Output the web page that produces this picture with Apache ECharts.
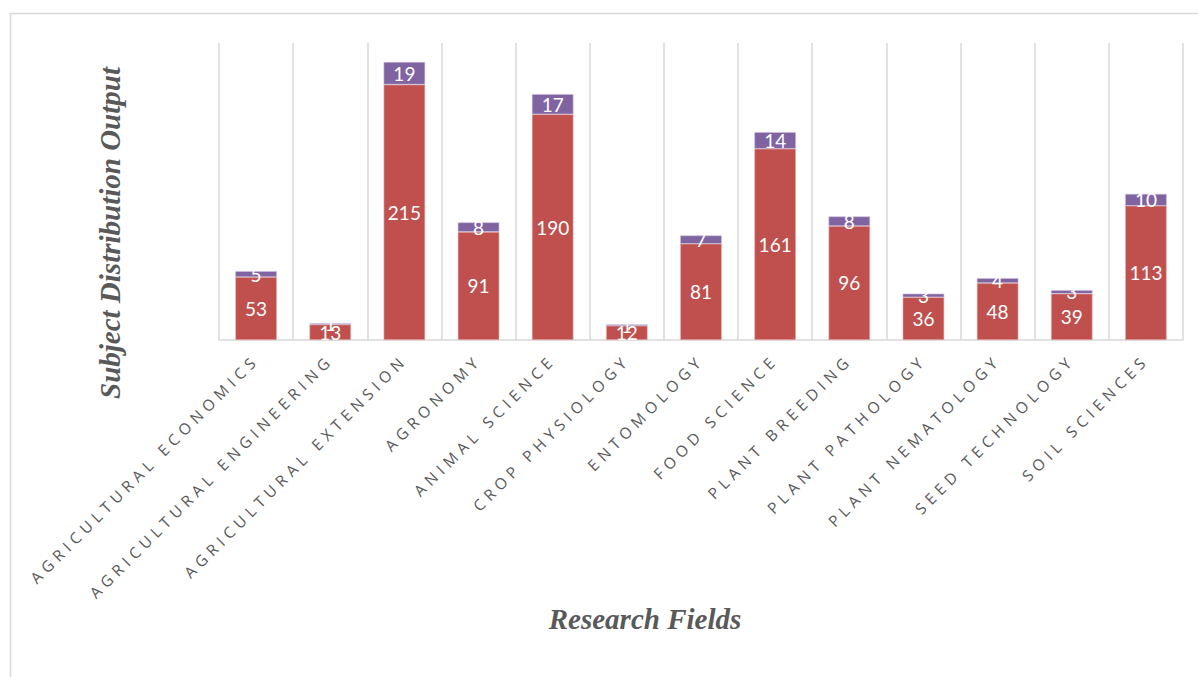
<!DOCTYPE html>
<html>
<head>
<meta charset="utf-8">
<script src="https://cdn.jsdelivr.net/npm/echarts@6/dist/echarts.min.js"></script>
<style>
  html, body { margin: 0; padding: 0; background: #fff; }
  #chart { width: 1198px; height: 677px; }
  /* widen the tracking of the category labels */
  #chart text[style*="Open Sans"] { letter-spacing: 5px; }
</style>
</head>
<body>
<div id="chart"></div>
<script>
const categories = [
  'AGRICULTURAL ECONOMICS', 'AGRICULTURAL ENGINEERING', 'AGRICULTURAL EXTENSION',
  'AGRONOMY', 'ANIMAL SCIENCE', 'CROP PHYSIOLOGY', 'ENTOMOLOGY', 'FOOD SCIENCE',
  'PLANT BREEDING', 'PLANT PATHOLOGY', 'PLANT NEMATOLOGY', 'SEED TECHNOLOGY', 'SOIL SCIENCES'
];
const baseValues = [53, 13, 215, 91, 190, 12, 81, 161, 96, 36, 48, 39, 113];
const topValues  = [5, 1, 19, 8, 17, 1, 7, 14, 8, 3, 4, 3, 10];

const chart = echarts.init(document.getElementById('chart'), null, { renderer: 'svg' });

const dataLabel = {
  show: true,
  position: 'inside',
  color: '#ffffff',
  fontFamily: 'Lato',
  fontSize: 19
};

chart.setOption({
  animation: false,
  backgroundColor: '#ffffff',
  grid: { left: 219, right: 15, top: 43, bottom: 337 },
  xAxis: {
    type: 'category',
    data: categories,
    axisLine: { show: true, lineStyle: { color: '#d9d9d9', width: 1.5 } },
    axisTick: { show: false },
    splitLine: { show: true, lineStyle: { color: '#d9d9d9', width: 1.5 } },
    axisLabel: {
      interval: 0,
      rotate: 45,
      margin: 17,
      color: '#595959',
      fontFamily: 'Open Sans',
      fontSize: 15.5
    }
  },
  yAxis: {
    type: 'value',
    min: 0,
    max: 250,
    show: false,
    splitLine: { show: false }
  },
  series: [
    {
      name: 'Base',
      type: 'bar',
      stack: 'total',
      barWidth: '56%',
      data: baseValues,
      itemStyle: { color: '#C0504D', borderColor: '#e8b4b3', borderWidth: 0.6 },
      label: dataLabel
    },
    {
      name: 'Additional',
      type: 'bar',
      stack: 'total',
      barWidth: '56%',
      data: topValues,
      itemStyle: { color: '#8064A2', borderColor: '#c9bcd9', borderWidth: 0.6 },
      label: dataLabel
    }
  ],
  graphic: [
    {
      type: 'rect',
      silent: true,
      shape: { x: 10.5, y: 13.5, width: 1300, height: 800 },
      style: { fill: 'none', stroke: '#d9d9d9', lineWidth: 1.5 },
      z: -10
    },
    {
      type: 'text',
      silent: true,
      x: 110,
      y: 233,
      rotation: Math.PI / 2,
      style: {
        text: 'Subject Distribution Output',
        fill: '#595959',
        font: 'italic bold 29px "Liberation Serif"',
        align: 'center',
        verticalAlign: 'middle'
      }
    },
    {
      type: 'text',
      silent: true,
      x: 645,
      y: 619,
      style: {
        text: 'Research Fields',
        fill: '#595959',
        font: 'italic bold 29px "Liberation Serif"',
        align: 'center',
        verticalAlign: 'middle'
      }
    }
  ]
});
</script>
</body>
</html>
